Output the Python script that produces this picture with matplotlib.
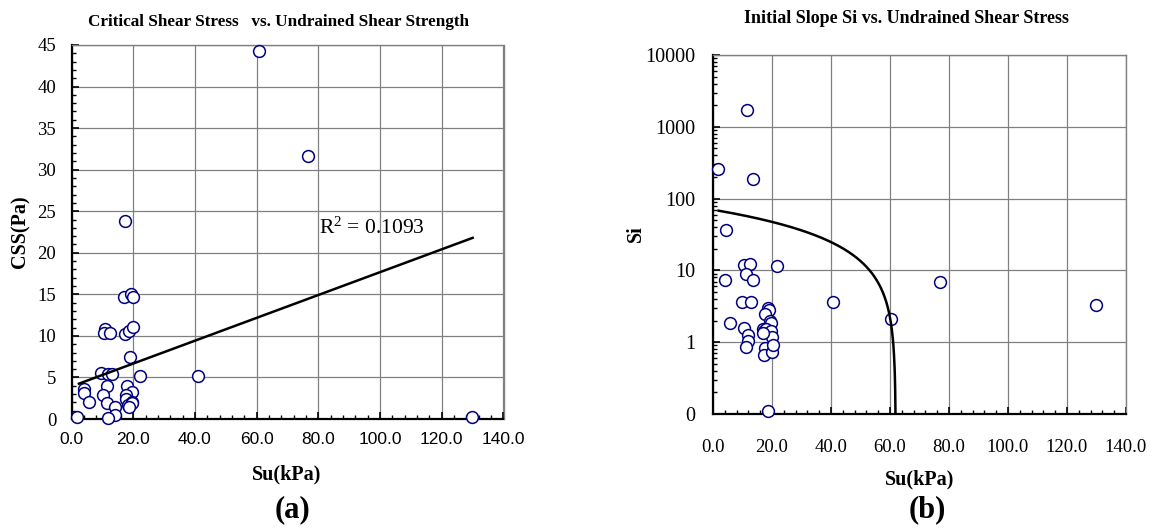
import numpy as np
import matplotlib
matplotlib.use("Agg")
import matplotlib.pyplot as plt
from matplotlib.ticker import MultipleLocator, FixedLocator, FuncFormatter, LogLocator, NullFormatter

# (a) critical shear stress vs undrained shear strength
su_a = [60.8, 76.8, 17.3, 17.0, 19.2, 20.0, 11.0, 10.6, 12.6, 17.2, 18.6, 20.0,
        18.9, 9.7, 11.7, 13.0, 22.2, 41.0, 3.9, 4.2, 5.8, 11.4, 10.3, 11.4,
        14.1, 14.1, 11.7, 1.7, 129.9, 18.1, 19.6, 17.7, 17.7, 18.2, 19.5, 19.7, 18.5]
css = [44.3, 31.6, 23.8, 14.7, 15.1, 14.7, 10.8, 10.3, 10.4, 10.2, 10.6, 11.1,
       7.4, 5.5, 5.4, 5.4, 5.2, 5.2, 3.6, 3.1, 2.0, 4.0, 2.9, 1.9,
       1.4, 0.5, 0.1, 0.2, 0.3, 4.0, 3.2, 2.9, 2.4, 1.7, 2.1, 1.9, 1.5]
fit_a = (0.1375, 3.92)          # slope, intercept of the linear trendline
fit_a_range = (2.4, 130.0)
r2_text = "R$^2$ = 0.1093"

# (b) initial slope vs undrained shear strength
su_b = [1.6, 11.6, 13.6, 4.3, 10.4, 12.6, 21.8, 11.3, 3.9, 13.6, 76.8, 9.8,
        12.9, 40.6, 129.7, 60.4, 5.6, 10.4, 11.8, 11.7, 11.3, 18.5, 18.9, 17.6,
        19.4, 19.7, 16.9, 17.3, 17.9, 19.8, 20.0, 17.6, 17.3, 19.9, 20.2, 18.6, 16.8]
si = [262, 1720, 187, 36, 12.0, 12.4, 11.5, 9.0, 7.3, 7.3, 7.0, 3.65,
      3.65, 3.6, 3.3, 2.1, 1.88, 1.56, 1.24, 1.04, 0.85, 2.95, 2.85, 2.5,
      2.0, 1.85, 1.55, 1.42, 1.52, 1.45, 1.2, 0.82, 0.66, 0.74, 0.9, 0.11, 1.35]
fit_b = (-1.13, 70.0)           # slope, intercept (linear trendline on log axis)
fit_b_start = 1.9

SERIF = "Liberation Serif"
SANS = "Liberation Sans"
W, H = 1153, 529
GRID = "#808080"
NAVY = "#000080"

plt.rcParams["mathtext.fontset"] = "custom"
plt.rcParams["mathtext.rm"] = SERIF
plt.rcParams["mathtext.it"] = SERIF + ":italic"

fig = plt.figure(figsize=(W / 100, H / 100), dpi=100)


def px_axes(x0, x1, y0, y1):
    return fig.add_axes([x0 / W, 1 - y1 / H, (x1 - x0) / W, (y1 - y0) / H])


def style(ax):
    for s in ("top", "right"):
        ax.spines[s].set_color(GRID)
        ax.spines[s].set_linewidth(1.0)
    for s in ("left", "bottom"):
        ax.spines[s].set_color("black")
        ax.spines[s].set_linewidth(1.6)
    ax.grid(True, which="major", color=GRID, lw=0.9)
    ax.set_axisbelow(True)
    ax.tick_params(which="major", direction="in", length=5, width=1.2,
                   top=False, right=False)
    ax.tick_params(which="minor", direction="in", length=3, width=1.0,
                   top=False, right=False)


# ---- (a)
ax1 = px_axes(71.5, 503.5, 45, 419)
style(ax1)
ax1.set_xlim(0, 140)
ax1.set_ylim(0, 45)
ax1.xaxis.set_major_locator(MultipleLocator(20))
ax1.xaxis.set_minor_locator(MultipleLocator(4))
ax1.yaxis.set_major_locator(MultipleLocator(5))
ax1.yaxis.set_minor_locator(MultipleLocator(1))
ax1.xaxis.set_major_formatter(FuncFormatter(lambda v, p: f"{v:.1f}"))
for lab in ax1.get_xticklabels():
    lab.set_fontfamily(SANS)
    lab.set_fontsize(12.5)
for lab in ax1.get_yticklabels():
    lab.set_fontfamily(SERIF)
    lab.set_fontsize(13.5)
ax1.tick_params(axis="x", pad=9)
ax1.tick_params(axis="y", pad=11)

ax1.plot(su_a, css, "o", ls="none", ms=8.5, mfc="white", mec=NAVY, mew=1.1,
         clip_on=False, zorder=3)
xs = np.array(fit_a_range)
ax1.plot(xs, fit_a[0] * xs + fit_a[1], color="black", lw=1.8, zorder=4)
ax1.text(80.3, 23.0, r2_text, fontfamily=SERIF, fontsize=15.5, va="center",
         ha="left")

fig.text(279 / W, 1 - 22 / H, "Critical Shear Stress   vs. Undrained Shear Strength",
         fontfamily=SERIF, fontweight="bold", fontsize=12.3, ha="center", va="center")
fig.text(287 / W, 1 - 474 / H, "Su(kPa)", fontfamily=SERIF, fontweight="bold",
         fontsize=14.5, ha="center", va="center")
fig.text(20 / W, 1 - 232 / H, "CSS(Pa)", fontfamily=SERIF, fontweight="bold",
         fontsize=14.5, ha="center", va="center", rotation=90)
fig.text(292 / W, 1 - 510 / H, "(a)", fontfamily=SERIF, fontweight="bold",
         fontsize=22, ha="center", va="center")

# ---- (b)
ax2 = px_axes(713, 1126, 55, 414)
style(ax2)
ax2.set_xlim(0, 140)
ax2.set_yscale("log")
ax2.set_ylim(0.1, 10000)
ax2.xaxis.set_major_locator(MultipleLocator(20))
ax2.xaxis.set_minor_locator(MultipleLocator(4))
ax2.xaxis.set_major_formatter(FuncFormatter(lambda v, p: f"{v:.1f}"))
ax2.yaxis.set_major_locator(FixedLocator([0.1, 1, 10, 100, 1000, 10000]))
ax2.yaxis.set_minor_locator(LogLocator(base=10, subs=np.arange(2, 10)))
ax2.yaxis.set_minor_formatter(NullFormatter())
ax2.yaxis.set_major_formatter(FuncFormatter(lambda v, p: "0" if v < 1 else f"{v:.0f}"))
for lab in ax2.get_xticklabels():
    lab.set_fontfamily(SERIF)
    lab.set_fontsize(13.5)
for lab in ax2.get_yticklabels():
    lab.set_fontfamily(SERIF)
    lab.set_fontsize(14.5)
ax2.tick_params(axis="x", pad=18)
ax2.tick_params(axis="y", pad=13)

ax2.plot(su_b, si, "o", ls="none", ms=8.5, mfc="white", mec=NAVY, mew=1.1,
         clip_on=False, zorder=3)
x_end = (0.1 - fit_b[1]) / fit_b[0]
xb = np.linspace(fit_b_start, x_end, 600)
ax2.plot(xb, fit_b[0] * xb + fit_b[1], color="black", lw=1.8, zorder=4)

fig.text(907 / W, 1 - 18.5 / H, "Initial Slope Si vs. Undrained Shear Stress",
         fontfamily=SERIF, fontweight="bold", fontsize=13, ha="center", va="center")
fig.text(920 / W, 1 - 479 / H, "Su(kPa)", fontfamily=SERIF, fontweight="bold",
         fontsize=14.5, ha="center", va="center")
fig.text(636 / W, 1 - 234 / H, "Si", fontfamily=SERIF, fontweight="bold",
         fontsize=14.5, ha="center", va="center", rotation=90)
fig.text(927 / W, 1 - 510 / H, "(b)", fontfamily=SERIF, fontweight="bold",
         fontsize=22, ha="center", va="center")

fig.savefig("out.png", dpi=100)
